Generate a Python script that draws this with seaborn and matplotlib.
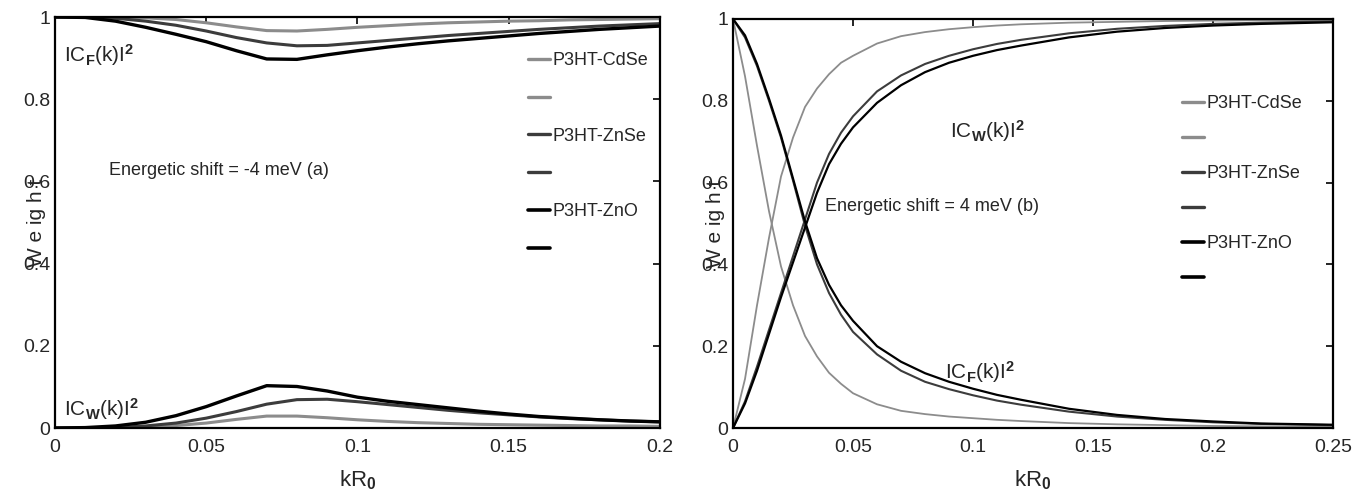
import matplotlib
matplotlib.use("Agg")
import matplotlib.pyplot as plt
from matplotlib.lines import Line2D
import seaborn as sns

# ---- data ----
materials = ["P3HT-CdSe", "P3HT-ZnSe", "P3HT-ZnO"]
colors = ["#8c8c8c", "#3c3c3c", "#000000"]

# panel (a): energetic shift = -4 meV
x_a = [0, 0.01, 0.02, 0.03, 0.04, 0.05, 0.06, 0.07, 0.08, 0.09, 0.1,
       0.11, 0.12, 0.13, 0.14, 0.15, 0.16, 0.17, 0.18, 0.19, 0.2]
w_a_cdse = [0, 0, 0, 0.002, 0.006, 0.012, 0.021, 0.029, 0.029, 0.025, 0.020,
            0.016, 0.013, 0.011, 0.009, 0.008, 0.007, 0.006, 0.005, 0.005, 0.004]
w_a_znse = [0, 0, 0.001, 0.005, 0.012, 0.024, 0.040, 0.058, 0.069, 0.070, 0.064,
            0.057, 0.050, 0.043, 0.037, 0.032, 0.027, 0.023, 0.020, 0.017, 0.015]
w_a_zno = [0, 0.001, 0.005, 0.014, 0.030, 0.052, 0.078, 0.103, 0.101, 0.090, 0.075,
           0.065, 0.057, 0.049, 0.041, 0.034, 0.028, 0.024, 0.020, 0.017, 0.015]
f_a_cdse = [1, 1, 1, 0.998, 0.994, 0.986, 0.976, 0.967, 0.966, 0.970, 0.975,
            0.979, 0.983, 0.986, 0.988, 0.990, 0.991, 0.993, 0.994, 0.995, 0.996]
f_a_znse = [1, 1, 0.997, 0.990, 0.980, 0.966, 0.950, 0.937, 0.930, 0.931, 0.937,
            0.943, 0.949, 0.955, 0.960, 0.965, 0.970, 0.974, 0.978, 0.981, 0.984]
f_a_zno = [1, 0.999, 0.990, 0.975, 0.958, 0.940, 0.918, 0.898, 0.897, 0.908, 0.918,
           0.927, 0.935, 0.942, 0.948, 0.954, 0.960, 0.965, 0.970, 0.974, 0.978]

# panel (b): energetic shift = +4 meV
x_b = [0, 0.005, 0.01, 0.015, 0.02, 0.025, 0.03, 0.035, 0.04, 0.045, 0.05,
       0.06, 0.07, 0.08, 0.09, 0.1, 0.11, 0.12, 0.14, 0.16, 0.18, 0.2, 0.22, 0.25]
f_b_cdse = [1, 0.86, 0.69, 0.53, 0.395, 0.30, 0.225, 0.175, 0.135, 0.108, 0.085,
            0.058, 0.042, 0.034, 0.028, 0.024, 0.020, 0.017, 0.012, 0.009, 0.007,
            0.005, 0.004, 0.003]
f_b_znse = [1, 0.955, 0.885, 0.80, 0.71, 0.605, 0.495, 0.40, 0.33, 0.277, 0.235,
            0.18, 0.14, 0.113, 0.095, 0.08, 0.067, 0.057, 0.040, 0.028, 0.020,
            0.014, 0.010, 0.007]
f_b_zno = [1, 0.96, 0.89, 0.805, 0.715, 0.61, 0.505, 0.415, 0.35, 0.30, 0.262,
           0.20, 0.162, 0.134, 0.113, 0.096, 0.081, 0.069, 0.047, 0.032, 0.022,
           0.016, 0.011, 0.008]
w_b_cdse = [0, 0.12, 0.30, 0.465, 0.615, 0.71, 0.785, 0.83, 0.865, 0.893, 0.91,
            0.94, 0.958, 0.968, 0.975, 0.980, 0.984, 0.987, 0.991, 0.993, 0.995,
            0.996, 0.997, 0.997]
w_b_znse = [0, 0.065, 0.15, 0.24, 0.33, 0.42, 0.51, 0.60, 0.67, 0.722, 0.762,
            0.823, 0.862, 0.89, 0.91, 0.926, 0.939, 0.949, 0.965, 0.976, 0.983,
            0.988, 0.991, 0.994]
w_b_zno = [0, 0.06, 0.14, 0.23, 0.32, 0.405, 0.49, 0.575, 0.645, 0.695, 0.735,
           0.795, 0.838, 0.87, 0.893, 0.91, 0.924, 0.935, 0.955, 0.969, 0.978,
           0.984, 0.988, 0.992]

sns.set_style("white")
plt.rcParams['font.family'] = ['Liberation Sans', 'DejaVu Sans']
plt.rcParams['mathtext.fontset'] = 'custom'
plt.rcParams['mathtext.rm'] = 'Liberation Sans'
plt.rcParams['mathtext.it'] = 'Liberation Sans:italic'
plt.rcParams['mathtext.bf'] = 'Liberation Sans:bold'

fig = plt.figure(figsize=(13.64, 5.01), dpi=100)
ax1 = fig.add_axes([0.0403, 0.1457, 0.4435, 0.8203])
ax2 = fig.add_axes([0.5374, 0.1457, 0.4399, 0.8164])

panel_a = [(w_a_cdse, f_a_cdse), (w_a_znse, f_a_znse), (w_a_zno, f_a_zno)]
panel_b = [(w_b_cdse, f_b_cdse), (w_b_znse, f_b_znse), (w_b_zno, f_b_zno)]
lw_a = [2.2, 2.2, 2.4]
lw_b = [1.3, 1.5, 1.6]

for i, (w, f) in enumerate(panel_a):
    sns.lineplot(x=x_a, y=w, ax=ax1, color=colors[i], lw=lw_a[i])
    sns.lineplot(x=x_a, y=f, ax=ax1, color=colors[i], lw=lw_a[i])
for i, (w, f) in enumerate(panel_b):
    sns.lineplot(x=x_b, y=w, ax=ax2, color=colors[i], lw=lw_b[i])
    sns.lineplot(x=x_b, y=f, ax=ax2, color=colors[i], lw=lw_b[i])

xticks_a = [0, 0.05, 0.1, 0.15, 0.2]
xticks_b = [0, 0.05, 0.1, 0.15, 0.2, 0.25]
yticks = [0, 0.2, 0.4, 0.6, 0.8, 1]
ytick_labels = ["0", "0.2", "0.4", "0.6", "0.8", "1"]

# legend anchors (figure fraction) and row spacing for each panel
legend_pos = {ax1: ((0.387, 0.896), 1.15), ax2: ((0.8666, 0.810), 1.0)}

for ax, xt, xmax in [(ax1, xticks_a, 0.2), (ax2, xticks_b, 0.25)]:
    ax.set_xlim(0, xmax)
    ax.set_ylim(0, 1)
    ax.set_xticks(xt)
    ax.set_xticklabels([f"{v:g}" for v in xt])
    ax.set_yticks(yticks)
    ax.set_yticklabels(ytick_labels)
    ax.tick_params(axis='x', pad=8)
    ax.tick_params(direction='in', length=5, width=1.2, labelsize=14,
                   top=True, right=True, color='black')
    for sp in ax.spines.values():
        sp.set_color('black')
        sp.set_linewidth(1.6)
    ax.set_xlabel(r"$\mathrm{kR}_{\mathbf{0}}$", fontsize=16, labelpad=9)
    ax.set_ylabel("W e ig h t", fontsize=15, labelpad=-17)

    handles = []
    labels = []
    for m, c, lw in zip(materials, colors, [2.4, 2.4, 2.6]):
        handles += [Line2D([], [], color=c, lw=lw), Line2D([], [], color=c, lw=lw)]
        labels += [m, " "]
    anchor, spacing = legend_pos[ax]
    ax.legend(handles, labels, loc='upper left', frameon=False, fontsize=13,
              handlelength=1.2, handletextpad=0.15, labelspacing=spacing,
              borderpad=0, borderaxespad=0,
              bbox_to_anchor=anchor, bbox_transform=fig.transFigure)

# annotations panel (a)
ax1.text(0.003, 0.89, r"$\mathrm{IC}_{\mathbf{F}}\mathrm{(k)I}^{\mathbf{2}}$", fontsize=15)
ax1.text(0.003, 0.03, r"$\mathrm{IC}_{\mathbf{W}}\mathrm{(k)I}^{\mathbf{2}}$", fontsize=15)
ax1.text(0.018, 0.615, "Energetic shift = -4 meV (a)", fontsize=13)

# annotations panel (b)
ax2.text(0.0905, 0.71, r"$\mathrm{IC}_{\mathbf{W}}\mathrm{(k)I}^{\mathbf{2}}$", fontsize=15)
ax2.text(0.0885, 0.12, r"$\mathrm{IC}_{\mathbf{F}}\mathrm{(k)I}^{\mathbf{2}}$", fontsize=15)
ax2.text(0.0385, 0.53, "Energetic shift = 4 meV (b)", fontsize=13)

fig.savefig("out.png", dpi=100)
